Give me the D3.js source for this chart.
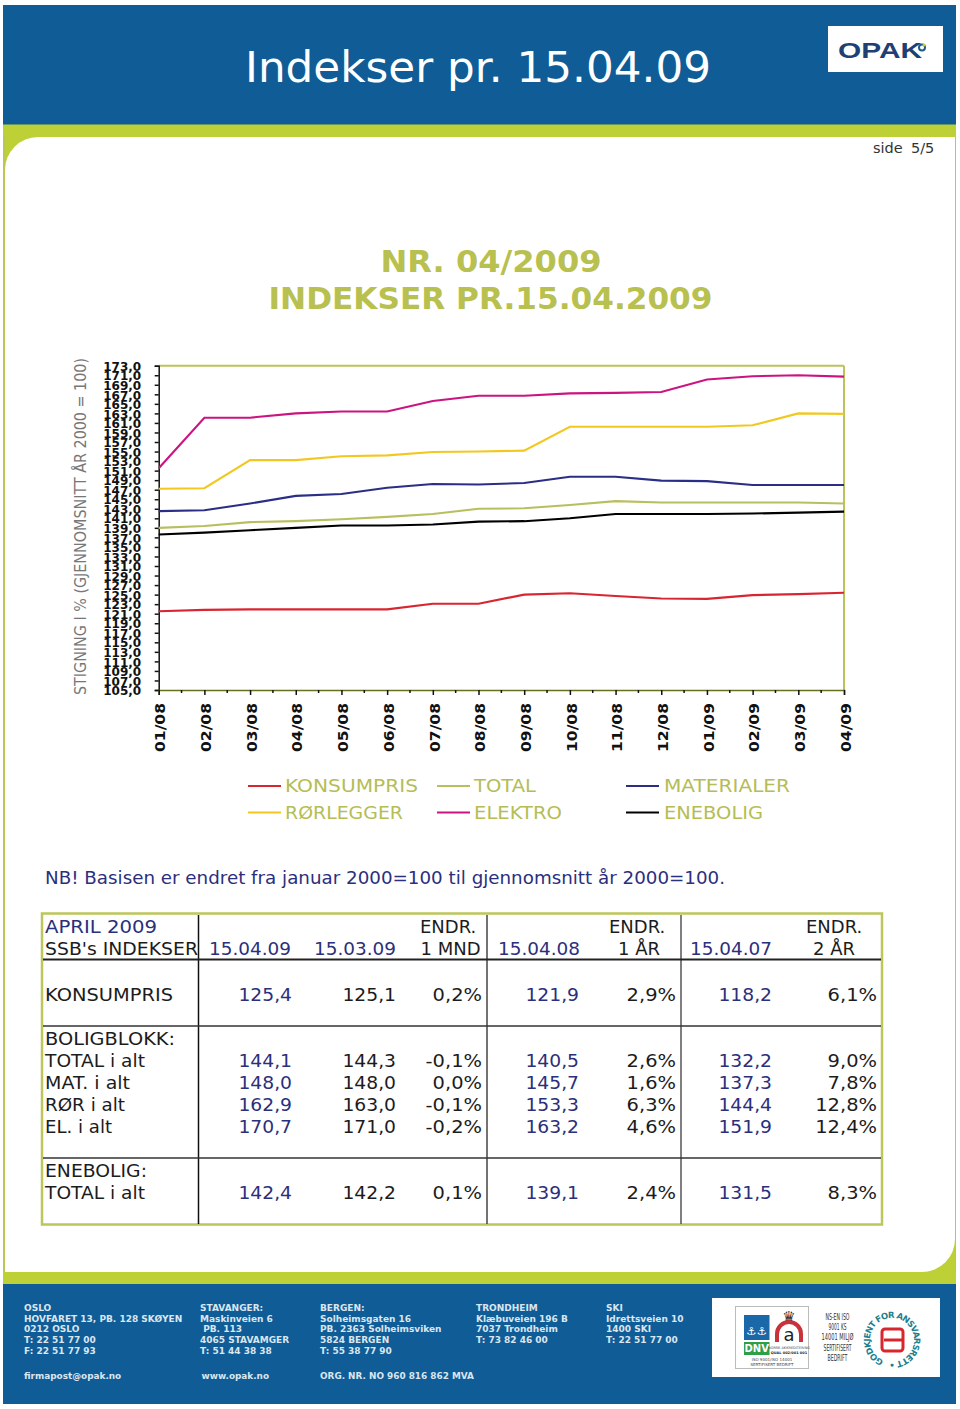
<!DOCTYPE html>
<html><head><meta charset="utf-8">
<style>html,body{margin:0;padding:0;background:#fff}svg{display:block}text{font-family:"DejaVu Sans",sans-serif}</style>
<script src="https://cdn.jsdelivr.net/npm/d3@7"></script></head>
<body><svg id="c" width="960" height="1409"></svg>
<script>
const months=["01/08","02/08","03/08","04/08","05/08","06/08","07/08","08/08","09/08","10/08","11/08","12/08","01/09","02/09","03/09","04/09"];
const konsumpris=[121.5,121.8,121.9,121.9,121.9,121.9,123.1,123.1,125.0,125.3,124.7,124.2,124.1,124.9,125.1,125.4];
const total=[139.0,139.4,140.2,140.4,140.8,141.3,141.9,143.0,143.1,143.8,144.6,144.3,144.3,144.3,144.3,144.1];
const materialer=[142.5,142.7,144.1,145.7,146.1,147.4,148.2,148.1,148.4,149.7,149.7,148.9,148.8,148.0,148.0,148.0];
const rorlegger=[147.2,147.3,153.2,153.2,154.0,154.2,154.9,155.0,155.2,160.2,160.2,160.2,160.2,160.5,163.0,162.9];
const elektro=[151.5,162.1,162.1,163.0,163.4,163.4,165.6,166.7,166.7,167.2,167.3,167.5,170.1,170.8,171.0,170.7];
const enebolig=[137.6,138.0,138.5,139.0,139.5,139.5,139.7,140.3,140.4,141.0,141.9,141.9,141.9,142.0,142.2,142.4];
const seriesNames=["KONSUMPRIS","TOTAL","MATERIALER","RØRLEGGER","ELEKTRO","ENEBOLIG"];
const seriesColors=["#d9252f","#b8bf5e","#2a2f85","#f2c81f","#cb1480","#000000"];
const yTicks=d3.range(105,174,2);
const rowNames=["KONSUMPRIS","TOTAL i alt","MAT. i alt","RØR i alt","EL. i alt","TOTAL i alt"];
const v150409=["125,4","144,1","148,0","162,9","170,7","142,4"];
const v150309=["125,1","144,3","148,0","163,0","171,0","142,2"];
const d1mnd=["0,2%","-0,1%","0,0%","-0,1%","-0,2%","0,1%"];
const v150408=["121,9","140,5","145,7","153,3","163,2","139,1"];
const d1ar=["2,9%","2,6%","1,6%","6,3%","4,6%","2,4%"];
const v150407=["118,2","132,2","137,3","144,4","151,9","131,5"];
const d2ar=["6,1%","9,0%","7,8%","12,8%","12,4%","8,3%"];
const footerCols=[
 ["OSLO","HOVFARET 13, PB. 128 SKØYEN","0212 OSLO","T: 22 51 77 00","F: 22 51 77 93"],
 ["STAVANGER:","Maskinveien 6"," PB. 113","4065 STAVAMGER","T: 51 44 38 38"],
 ["BERGEN:","Solheimsgaten 16","PB. 2363 Solheimsviken","5824 BERGEN","T: 55 38 77 90"],
 ["TRONDHEIM","Klæbuveien 196 B","7037 Trondheim","T: 73 82 46 00"],
 ["SKI","Idrettsveien 10","1400 SKI","T: 22 51 77 00"]];
const footerNotes=["firmapost@opak.no","www.opak.no","ORG. NR. NO 960 816 862 MVA"];

const svg=d3.select("#c");
const BLUE="#0f5c97",GREEN="#bdd136",OLIVE="#b8c04f",NAVY="#2b2f7c",INK="#1c1c1c";
function txt(p,x,y,s,o={}){
  const t=p.append("text").attr("x",x).attr("y",y).text(s)
   .attr("font-size",o.size||18).attr("fill",o.fill||INK)
   .attr("font-weight",o.weight||"normal").attr("text-anchor",o.anchor||"start");
  if(o.w)t.attr("textLength",o.w).attr("lengthAdjust","spacingAndGlyphs");
  if(o.stretch)t.attr("textLength",t.node().getComputedTextLength()*o.stretch).attr("lengthAdjust","spacingAndGlyphs");
  if(o.family)t.style("font-family",o.family);
  if(o.space)t.attr("xml:space","preserve").style("white-space","pre");
  return t;
}
function rect(p,x,y,w,h,f){return p.append("rect").attr("x",x).attr("y",y).attr("width",w).attr("height",h).attr("fill",f);}
function seg(p,x1,y1,x2,y2,c,w){return p.append("line").attr("x1",x1).attr("y1",y1).attr("x2",x2).attr("y2",y2).attr("stroke",c).attr("stroke-width",w);}

// page frame
rect(svg,3,124,953,1161,GREEN);
rect(svg,3,137,2,1135,"#bcc752");
rect(svg,955,137,1,1135,"#bcc752");
const pp=d3.path(),L=5,R=955,T=137,B=1272,r=33;
pp.moveTo(L+r,T);pp.lineTo(R,T);pp.lineTo(R,B-r);pp.arcTo(R,B,R-r,B,r);pp.lineTo(L,B);pp.lineTo(L,T+r);pp.arcTo(L,T,L+r,T,r);pp.closePath();
svg.append("path").attr("d",pp.toString()).attr("fill","#fff");
rect(svg,3,5,953,120,BLUE);
rect(svg,3,1284,953,120,BLUE);
rect(svg,3,124.5,953,12.5,GREEN);
rect(svg,3,1272,953,12,GREEN);

txt(svg,245,82,"Indekser pr. 15.04.09",{size:43,fill:"#fff",w:466});
rect(svg,828,26,115,46,"#fff");
txt(svg,838,58,"OPAK",{size:22,weight:"bold",fill:"#1f3f75",w:84,family:"'Liberation Sans',sans-serif"});
svg.append("circle").attr("cx",922).attr("cy",47.5).attr("r",3).attr("fill","none").attr("stroke","#1f5a8a").attr("stroke-width",2);
svg.append("circle").attr("cx",924).attr("cy",45).attr("r",1.5).attr("fill",GREEN);
txt(svg,873,153,"side",{size:14.5,fill:"#333"});
txt(svg,911,153,"5/5",{size:14.5,fill:"#333"});

txt(svg,380.5,271.5,"NR. 04/2009",{size:31,weight:"bold",fill:OLIVE,w:221});
txt(svg,268.5,309,"INDEKSER PR.15.04.2009",{size:31,weight:"bold",fill:OLIVE,w:444});

// chart
const x=d3.scalePoint().domain(months).range([158.7,844]);
const y=d3.scaleLinear().domain([105,173]).range([690,365.7]);
const g=svg.append("g");
seg(g,158.7,365.7,844,365.7,"#bcc25c",2);
seg(g,844,365.7,844,690,"#bcc25c",2);
const axL=g.append("g").attr("transform","translate(158.7,0)")
 .call(d3.axisLeft(y).tickValues(yTicks).tickSize(4).tickFormat(d=>d3.format(".1f")(d).replace(".",",")));
axL.select(".domain").attr("stroke","#111").attr("stroke-width",1.5);
axL.selectAll("line").attr("stroke","#111").attr("stroke-width",1.5);
axL.selectAll("text").attr("x",-17.5).attr("font-size",13).attr("font-weight","bold").attr("fill","#111")
 .attr("textLength",38).attr("lengthAdjust","spacingAndGlyphs").attr("dy","0.36em");
const axB=g.append("g").attr("transform","translate(0,690)")
 .call(d3.axisBottom(x).tickSize(5));
axB.select(".domain").attr("stroke","#6c6f1e").attr("stroke-width",1.5);
axB.selectAll("line").attr("stroke","#111").attr("stroke-width",1.5);
axB.selectAll("text").attr("transform","rotate(-90)").attr("x",-13).attr("y",1).attr("dy","0.36em")
 .attr("text-anchor","end").attr("font-size",14.5).attr("font-weight","bold").attr("fill","#111")
 .attr("textLength",49).attr("lengthAdjust","spacingAndGlyphs");
const step=x.step();
g.append("g").selectAll("line").data(months.slice(0,-1)).join("line")
 .attr("x1",d=>x(d)+step/2).attr("x2",d=>x(d)+step/2).attr("y1",690).attr("y2",693)
 .attr("stroke","#111").attr("stroke-width",1.5);
txt(svg,0,0,"STIGNING I % (GJENNOMSNITT ÅR 2000 = 100)",{size:15.5,fill:"#777",w:337,anchor:"start"})
 .attr("transform","translate(86,695) rotate(-90)");

const line=d3.line().x((d,i)=>x(months[i])).y(d=>y(d));
[konsumpris,total,materialer,rorlegger,elektro,enebolig].forEach((s,i)=>{
  g.append("path").datum(s).attr("d",line).attr("fill","none").attr("stroke",seriesColors[i]).attr("stroke-width",2.1);
});

// legend
const legX=[248,437,626],legTX=[285,474,664],legY=[786,812.5],legW=[133,62,126,118,88,99];
seriesNames.forEach((n,i)=>{
  const c=i%3,ro=Math.floor(i/3);
  seg(svg,legX[c],legY[ro],legX[c]+33,legY[ro],seriesColors[i],2);
  txt(svg,legTX[c],legY[ro]+6.3,n,{size:17.5,fill:"#b5bd55",w:legW[i]});
});
txt(svg,45,884,"NB! Basisen er endret fra januar 2000=100 til gjennomsnitt år 2000=100.",{size:17.5,fill:NAVY,w:680});

// table
const tb=svg.append("g");
tb.append("rect").attr("x",42).attr("y",913.5).attr("width",840).attr("height",311).attr("fill","none").attr("stroke","#bcc65a").attr("stroke-width",2.5);
[[198.5,"#111"],[487,"#444"],[681,"#555"]].forEach(d=>seg(tb,d[0],915,d[0],1224,d[1],1.5));
seg(tb,43,959.5,881,959.5,"#222",2);seg(tb,43,1026,881,1026,"#333",1.5);seg(tb,43,1158,881,1158,"#333",1.5);
txt(tb,45,933,"APRIL 2009",{fill:NAVY,w:112});
txt(tb,45,955,"SSB's INDEKSER",{w:153});
[[209,"15.04.09"],[314,"15.03.09"],[498,"15.04.08"],[690,"15.04.07"]].forEach(d=>txt(tb,d[0],955,d[1],{fill:NAVY,w:82}));
[[420,933,"ENDR."],[420.5,955,"1 MND"],[609,933,"ENDR."],[618,955,"1 ÅR"],[806,933,"ENDR."],[813,955,"2 ÅR"]].forEach(d=>txt(tb,d[0],d[1],d[2]));
const rowY=[1000.5,1066.5,1088.5,1110.5,1133,1198.5];
const rowW=[128,100,85,80,67,100];
rowNames.forEach((n,i)=>txt(tb,45,rowY[i],n,{w:rowW[i]}));
txt(tb,45,1044.5,"BOLIGBLOKK:",{w:130});txt(tb,45,1177,"ENEBOLIG:",{w:102});
[[292,v150409,NAVY,1.04],[396,v150309,INK,1.04],[482,d1mnd,INK,1.08],[579,v150408,NAVY,1.04],[676,d1ar,INK,1.08],[772,v150407,NAVY,1.04],[877,d2ar,INK,1.08]].forEach(col=>{
  col[1].forEach((s,i)=>txt(tb,col[0],rowY[i],s,{anchor:"end",fill:col[2],stretch:col[3]}));
});

// footer
const ftX=[24,200,320,476,606];
footerCols.forEach((c,k)=>c.forEach((s,i)=>txt(svg,ftX[k],1311+i*10.7,s,{size:9,weight:"bold",fill:"#dbe6ef",space:true})));
[24,201.5,320].forEach((xx,i)=>txt(svg,xx,1379,footerNotes[i],{size:8.9,weight:"bold",fill:"#dbe6ef"}));

// certification panel
const cp=svg.append("g");
rect(cp,712,1298,228,79,"#fff");
cp.append("rect").attr("x",735.5).attr("y",1306.5).attr("width",73).attr("height",62).attr("fill","#fff").attr("stroke","#bbb");
rect(cp,744,1315,25.5,25,"#1a68a8");
txt(cp,756.7,1335,"⚓⚓",{size:11,fill:"#fff",anchor:"middle",w:21});
rect(cp,744,1342,25.5,13,"#2f9e48");
txt(cp,756.7,1352,"DNV",{size:10,weight:"bold",fill:"#fff",anchor:"middle"});
txt(cp,789,1322,"♛",{size:15,fill:"#222",anchor:"middle"});
cp.append("path").attr("d","M777 1342 v-8 a12 12 0 0 1 24 0 v8").attr("fill","none").attr("stroke","#c8323a").attr("stroke-width",4);
txt(cp,789,1341,"a",{size:18,fill:"#222",anchor:"middle"});
txt(cp,789,1349,"NORSK AKKREDITERING",{size:3.5,fill:"#444",anchor:"middle"});
txt(cp,789,1354,"QUAL 002/001 001",{size:3.5,fill:"#222",weight:"bold",anchor:"middle"});
txt(cp,772,1361,"ISO 9001/ISO 14001",{size:4,fill:"#444",anchor:"middle"});
txt(cp,772,1365.5,"SERTIFISERT BEDRIFT",{size:4,fill:"#444",anchor:"middle"});
["NS-EN ISO","9001 KS","14001 MILJØ","SERTIFISERT","BEDRIFT"].forEach((s,i)=>
  txt(cp,837.5,1320+i*10.2,s,{size:8.5,fill:"#333",anchor:"middle",w:[24,18,32,28,20][i]}));
const arc=d3.path();arc.arc(892,1340,22,Math.PI*0.62,Math.PI*2.62);
cp.append("defs").append("path").attr("id","ring").attr("d",arc.toString());
cp.append("text").attr("font-size",8.5).attr("font-weight","bold").attr("fill","#1c7f8f")
 .append("textPath").attr("href","#ring").attr("textLength",132).text("GODKJENT FOR ANSVARSRETT •");
cp.append("rect").attr("x",882).attr("y",1329).attr("width",21).attr("height",22).attr("rx",3).attr("fill","none").attr("stroke","#d7262e").attr("stroke-width",3);
seg(cp,884,1340,902,1340,"#d7262e",3);
</script></body></html>
